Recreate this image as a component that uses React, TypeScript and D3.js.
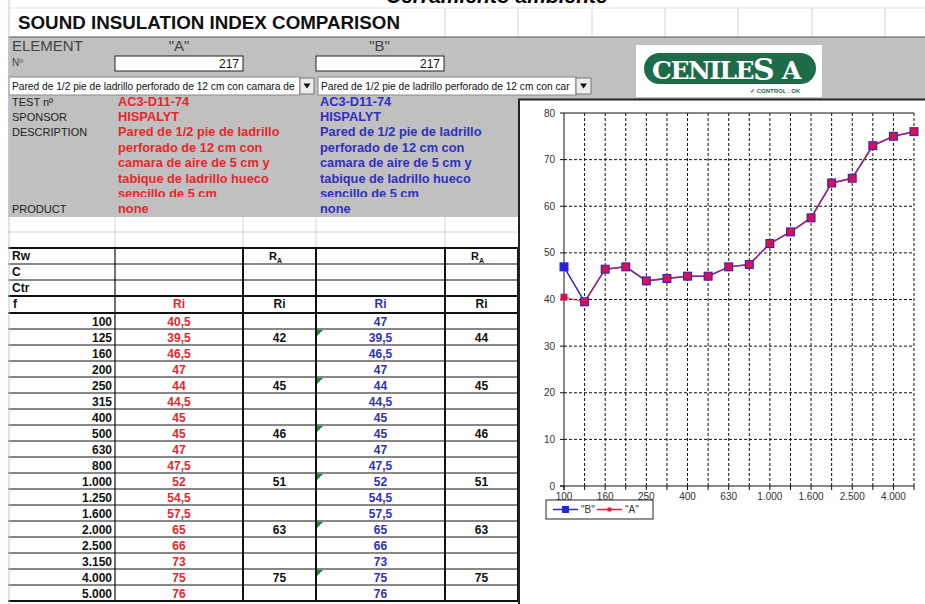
import React from 'react';
import * as d3 from 'd3';

// frequency bands (Hz) and Ri values per element
const freqLabels = ['100', '125', '160', '200', '250', '315', '400', '500', '630', '800', '1.000', '1.250', '1.600', '2.000', '2.500', '3.150', '4.000', '5.000'];
const riA = [40.5, 39.5, 46.5, 47, 44, 44.5, 45, 45, 47, 47.5, 52, 54.5, 57.5, 65, 66, 73, 75, 76];
const riB = [47, 39.5, 46.5, 47, 44, 44.5, 45, 45, 47, 47.5, 52, 54.5, 57.5, 65, 66, 73, 75, 76];
// octave values (R_A column), shown on the middle row of each octave
const octA = [null, 42, null, null, 45, null, null, 46, null, null, 51, null, null, 63, null, null, 75, null];
const octB = [null, 44, null, null, 45, null, null, 46, null, null, 51, null, null, 63, null, null, 75, null];
const yTicks = [0, 10, 20, 30, 40, 50, 60, 70, 80];
const xTickLabels = freqLabels.filter((_, i) => i % 2 === 0);

const testNo = 'AC3-D11-74';
const sponsor = 'HISPALYT';
const descLines = ['Pared de 1/2 pie de ladrillo', 'perforado de 12 cm con', 'camara de aire de 5 cm y', 'tabique de ladrillo hueco', 'sencillo de 5 cm'];
const comboA = 'Pared de 1/2 pie de ladrillo perforado de 12 cm con camara de';
const comboB = 'Pared de 1/2 pie de ladrillo perforado de 12 cm con car';

const FONT = '"Liberation Sans", Arial, sans-serif';
const RED = '#e8262a';
const BLUE = '#2f2fc0';

const fmt = (v: number) => String(v).replace('.', ',');

const App = () => {
  // sheet columns
  const colX = [8, 115, 243, 316, 445, 518, 592, 665, 738, 812, 885];
  const cA = (115 + 243) / 2;
  const cC = (243 + 316) / 2;
  const cD = (316 + 445) / 2;
  const cE = (445 + 518) / 2;

  const rows = d3.scaleBand<number>().domain(d3.range(freqLabels.length)).range([313, 601]);
  const rh = rows.bandwidth();

  // chart scales
  const x = d3.scalePoint<string>().domain(freqLabels).range([564, 914]);
  const y = d3.scaleLinear().domain([0, 80]).range([486, 113]);
  const line = d3.line<number>().x((d, i) => x(freqLabels[i]) as number).y((d) => y(d));

  const descY = d3.range(descLines.length).map((i) => 132 + i * 15.5);

  return (
    <svg width={925} height={604} style={{ position: 'absolute', left: 0, top: 0, background: '#fff' }} fontFamily={FONT}>
      <defs>
        <clipPath id="descClip"><rect x={0} y={88} width={518} height={109} /></clipPath>
        <clipPath id="combo1"><rect x={9} y={77} width={290} height={18} /></clipPath>
        <clipPath id="combo2"><rect x={318} y={77} width={257} height={18} /></clipPath>
      </defs>

      {/* title row */}
      <text x={386} y={3} fontSize={21} fontWeight="bold" fontStyle="italic">Cerramiento ambiente</text>
      {colX.filter((c) => c > 400).map((c) => (
        <line key={c} x1={c} x2={c} y1={8} y2={37} stroke="#d4d4d4" />
      ))}
      <line x1={8} x2={925} y1={8} y2={8} stroke="#e2e2e2" />
      <text x={18} y={29} fontSize={19} fontWeight="bold" fill="#111" textLength={382} lengthAdjust="spacingAndGlyphs">SOUND INSULATION INDEX COMPARISON</text>

      {/* grey header block */}
      <rect x={8} y={37} width={917} height={180} fill="#c0c0c0" />
      <line x1={8} x2={925} y1={37} y2={37} stroke="#555" />
      <text x={12} y={51} fontSize={15} fill="#444">ELEMENT</text>
      <text x={cA} y={51} fontSize={15} fill="#444" textAnchor="middle">"A"</text>
      <text x={cD - 1} y={51} fontSize={15} fill="#444" textAnchor="middle">"B"</text>
      <text x={12} y={66} fontSize={10} fill="#444">Nº</text>
      {[115, 316].map((bx) => (
        <g key={bx}>
          <rect x={bx} y={56} width={128} height={15} fill="#fff" stroke="#222" />
          <text x={bx + 124} y={68} fontSize={12} textAnchor="end" fill="#111">217</text>
        </g>
      ))}

      {/* combos */}
      <rect x={9} y={77} width={291} height={18} fill="#fff" stroke="#8a8a8a" />
      <text x={12} y={90} fontSize={10.2} fill="#111" clipPath="url(#combo1)">{comboA}</text>
      <rect x={300} y={78} width={14} height={16} fill="#ececec" stroke="#777" />
      <path d="M303.5,83.5 L310.5,83.5 L307,88.5 Z" fill="#111" />
      <rect x={318} y={77} width={258} height={18} fill="#fff" stroke="#8a8a8a" />
      <text x={321} y={90} fontSize={10.2} fill="#111" clipPath="url(#combo2)">{comboB}</text>
      <rect x={576} y={78} width={15} height={16} fill="#ececec" stroke="#777" />
      <path d="M580,83.5 L587,83.5 L583.5,88.5 Z" fill="#111" />

      {/* logo */}
      <rect x={636} y={45} width={186} height={52} fill="#fff" />
      <rect x={644} y={53} width={172} height={31} rx={15.5} fill="#1d6b48" />
      <text x={652} y={79} fontSize={25} fontWeight="bold" fill="#fff" fontFamily='"DejaVu Serif", serif' letterSpacing={-1.5}>CENILE</text>
      <text x={753} y={80} fontSize={30} fontWeight="bold" fill="#fff" fontFamily='"DejaVu Serif", serif'>S</text>
      <text x={782} y={79} fontSize={25} fontWeight="bold" fill="#fff" fontFamily='"DejaVu Serif", serif'>A</text>
      <text x={750} y={93} fontSize={6} fontWeight="bold" fill="#1d6b48">✓ CONTROL . OK</text>

      {/* info rows */}
      <g fontSize={11} fill="#222">
        <text x={12} y={106}>TEST nº</text>
        <text x={12} y={121}>SPONSOR</text>
        <text x={12} y={136}>DESCRIPTION</text>
        <text x={12} y={213}>PRODUCT</text>
      </g>
      <g fontSize={12.8} fontWeight="bold">
        <text x={118} y={106} fill={RED}>{testNo}</text>
        <text x={118} y={121} fill={RED}>{sponsor}</text>
        <text x={320} y={106} fill={BLUE}>{testNo}</text>
        <text x={320} y={121} fill={BLUE}>{sponsor}</text>
        <g clipPath="url(#descClip)">
          {descLines.map((t, i) => (
            <g key={i}>
              <text x={118} y={descY[i] + 4} fill={RED}>{t}</text>
              <text x={320} y={descY[i] + 4} fill={BLUE}>{t}</text>
            </g>
          ))}
        </g>
        <text x={118} y={213} fill={RED}>none</text>
        <text x={320} y={213} fill={BLUE}>none</text>
      </g>

      {/* light sheet grid under the header */}
      {colX.slice(1, 5).map((c) => (
        <line key={c} x1={c} x2={c} y1={217} y2={248} stroke="#d4d4d4" />
      ))}
      {[232, 248].map((r) => (
        <line key={r} x1={8} x2={518} y1={r} y2={r} stroke="#d4d4d4" />
      ))}

      {/* results table */}
      {[248, 264, 280, 296].map((r, i) => (
        <line key={r} x1={8} x2={518} y1={r} y2={r} stroke="#111" strokeWidth={i === 0 || i === 3 ? 2 : 1.2} />
      ))}
      {rows.domain().map((i) => (
        <line key={i} x1={8} x2={518} y1={(rows(i) as number) + rh} y2={(rows(i) as number) + rh} stroke="#111" strokeWidth={1} />
      ))}
      <line x1={8} x2={518} y1={313} y2={313} stroke="#111" strokeWidth={2} />
      <line x1={8} x2={518} y1={601} y2={601} stroke="#111" strokeWidth={2} />
      <line x1={115} x2={115} y1={248} y2={601} stroke="#111" strokeWidth={1.2} />
      {[243, 316, 445, 518].map((c) => (
        <line key={c} x1={c} x2={c} y1={248} y2={601} stroke="#111" strokeWidth={2} />
      ))}
      <line x1={9} x2={9} y1={0} y2={604} stroke="#b8cbe4" />

      <g fontSize={12} fontWeight="bold" fill="#111">
        <text x={12} y={260}>Rw</text>
        <text x={12} y={276}>C</text>
        <text x={12} y={292}>Ctr</text>
        <text x={13} y={308}>f</text>
        {[cC, cE].map((cx) => (
          <text key={cx} x={cx - 4} y={260} textAnchor="middle" fontSize={11}>
            R<tspan fontSize={7} dy={3}>A</tspan>
          </text>
        ))}
        <text x={cA} y={308} textAnchor="middle" fill={RED}>Ri</text>
        <text x={cC} y={308} textAnchor="middle">Ri</text>
        <text x={cD} y={308} textAnchor="middle" fill={BLUE}>Ri</text>
        <text x={cE} y={308} textAnchor="middle">Ri</text>
        {freqLabels.map((f, i) => {
          const ty = (rows(i) as number) + rh / 2 + 4.5;
          return (
            <g key={f}>
              <text x={112} y={ty} textAnchor="end">{f}</text>
              <text x={cA} y={ty} textAnchor="middle" fill={RED}>{fmt(riA[i])}</text>
              <text x={cD} y={ty} textAnchor="middle" fill={BLUE}>{fmt(riB[i])}</text>
              {octA[i] !== null && <text x={cC} y={ty} textAnchor="middle">{octA[i]}</text>}
              {octB[i] !== null && <text x={cE} y={ty} textAnchor="middle">{octB[i]}</text>}
              {octB[i] !== null && (
                <path d={`M317,${(rows(i) as number) + 1} l6,0 l-6,6 Z`} fill="#1b8a3c" stroke="none" />
              )}
            </g>
          );
        })}
      </g>

      {/* chart object */}
      <rect x={518} y={99} width={407} height={505} fill="#fff" />
      <line x1={518} x2={925} y1={99.5} y2={99.5} stroke="#222" strokeWidth={2} />
      <line x1={519} x2={519} y1={99} y2={604} stroke="#222" strokeWidth={2} />

      {/* gridlines */}
      {yTicks.filter((t) => t > 0).map((t) => (
        <line key={t} x1={564} x2={914} y1={y(t)} y2={y(t)} stroke="#111" strokeDasharray={t === 80 ? undefined : '3,2'} />
      ))}
      {freqLabels.slice(1).map((f) => (
        <line key={f} x1={x(f)} x2={x(f)} y1={y(80)} y2={y(0)} stroke="#111" strokeDasharray="3,2" />
      ))}
      <line x1={564} x2={564} y1={y(80)} y2={y(0) + 4} stroke="#111" />
      <line x1={560} x2={914} y1={y(0)} y2={y(0)} stroke="#111" />
      {yTicks.map((t) => (
        <g key={t}>
          <line x1={560} x2={564} y1={y(t)} y2={y(t)} stroke="#111" />
          <text x={555} y={y(t) + 3.5} fontSize={10} fill="#333" textAnchor="end">{t}</text>
        </g>
      ))}
      {freqLabels.map((f) => (
        <line key={f} x1={x(f)} x2={x(f)} y1={y(0)} y2={y(0) + 4} stroke="#111" />
      ))}
      {xTickLabels.map((f) => (
        <text key={f} x={x(f)} y={500} fontSize={10} fill="#333" textAnchor="middle">{f}</text>
      ))}

      {/* series */}
      <path d={line(riB) as string} fill="none" stroke="#2828c8" strokeWidth={1.5} />
      <path d={line(riA) as string} fill="none" stroke="#e0203c" strokeWidth={1.5} strokeOpacity={0.6} />
      {riB.map((v, i) => (
        <rect key={i} x={(x(freqLabels[i]) as number) - 4.5} y={y(v) - 4.5} width={9} height={9} fill="#2424d8" />
      ))}
      {riA.map((v, i) => (
        <rect key={i} x={(x(freqLabels[i]) as number) - 3.5} y={y(v) - 3.5} width={7} height={7} fill="#d81050" />
      ))}

      {/* legend */}
      <rect x={546} y={500} width={107} height={19} fill="#fff" stroke="#222" />
      <line x1={553} x2={578} y1={509.5} y2={509.5} stroke="#2828c8" strokeWidth={1.5} />
      <rect x={562} y={506} width={7} height={7} fill="#2424d8" />
      <text x={581} y={513} fontSize={10} fill="#333">"B"</text>
      <line x1={597} x2={622} y1={509.5} y2={509.5} stroke="#e0203c" strokeWidth={1.5} />
      <rect x={607.5} y={507.5} width={4} height={4} fill="#e0203c" />
      <text x={625} y={513} fontSize={10} fill="#333">"A"</text>
    </svg>
  );
};

export default App;
